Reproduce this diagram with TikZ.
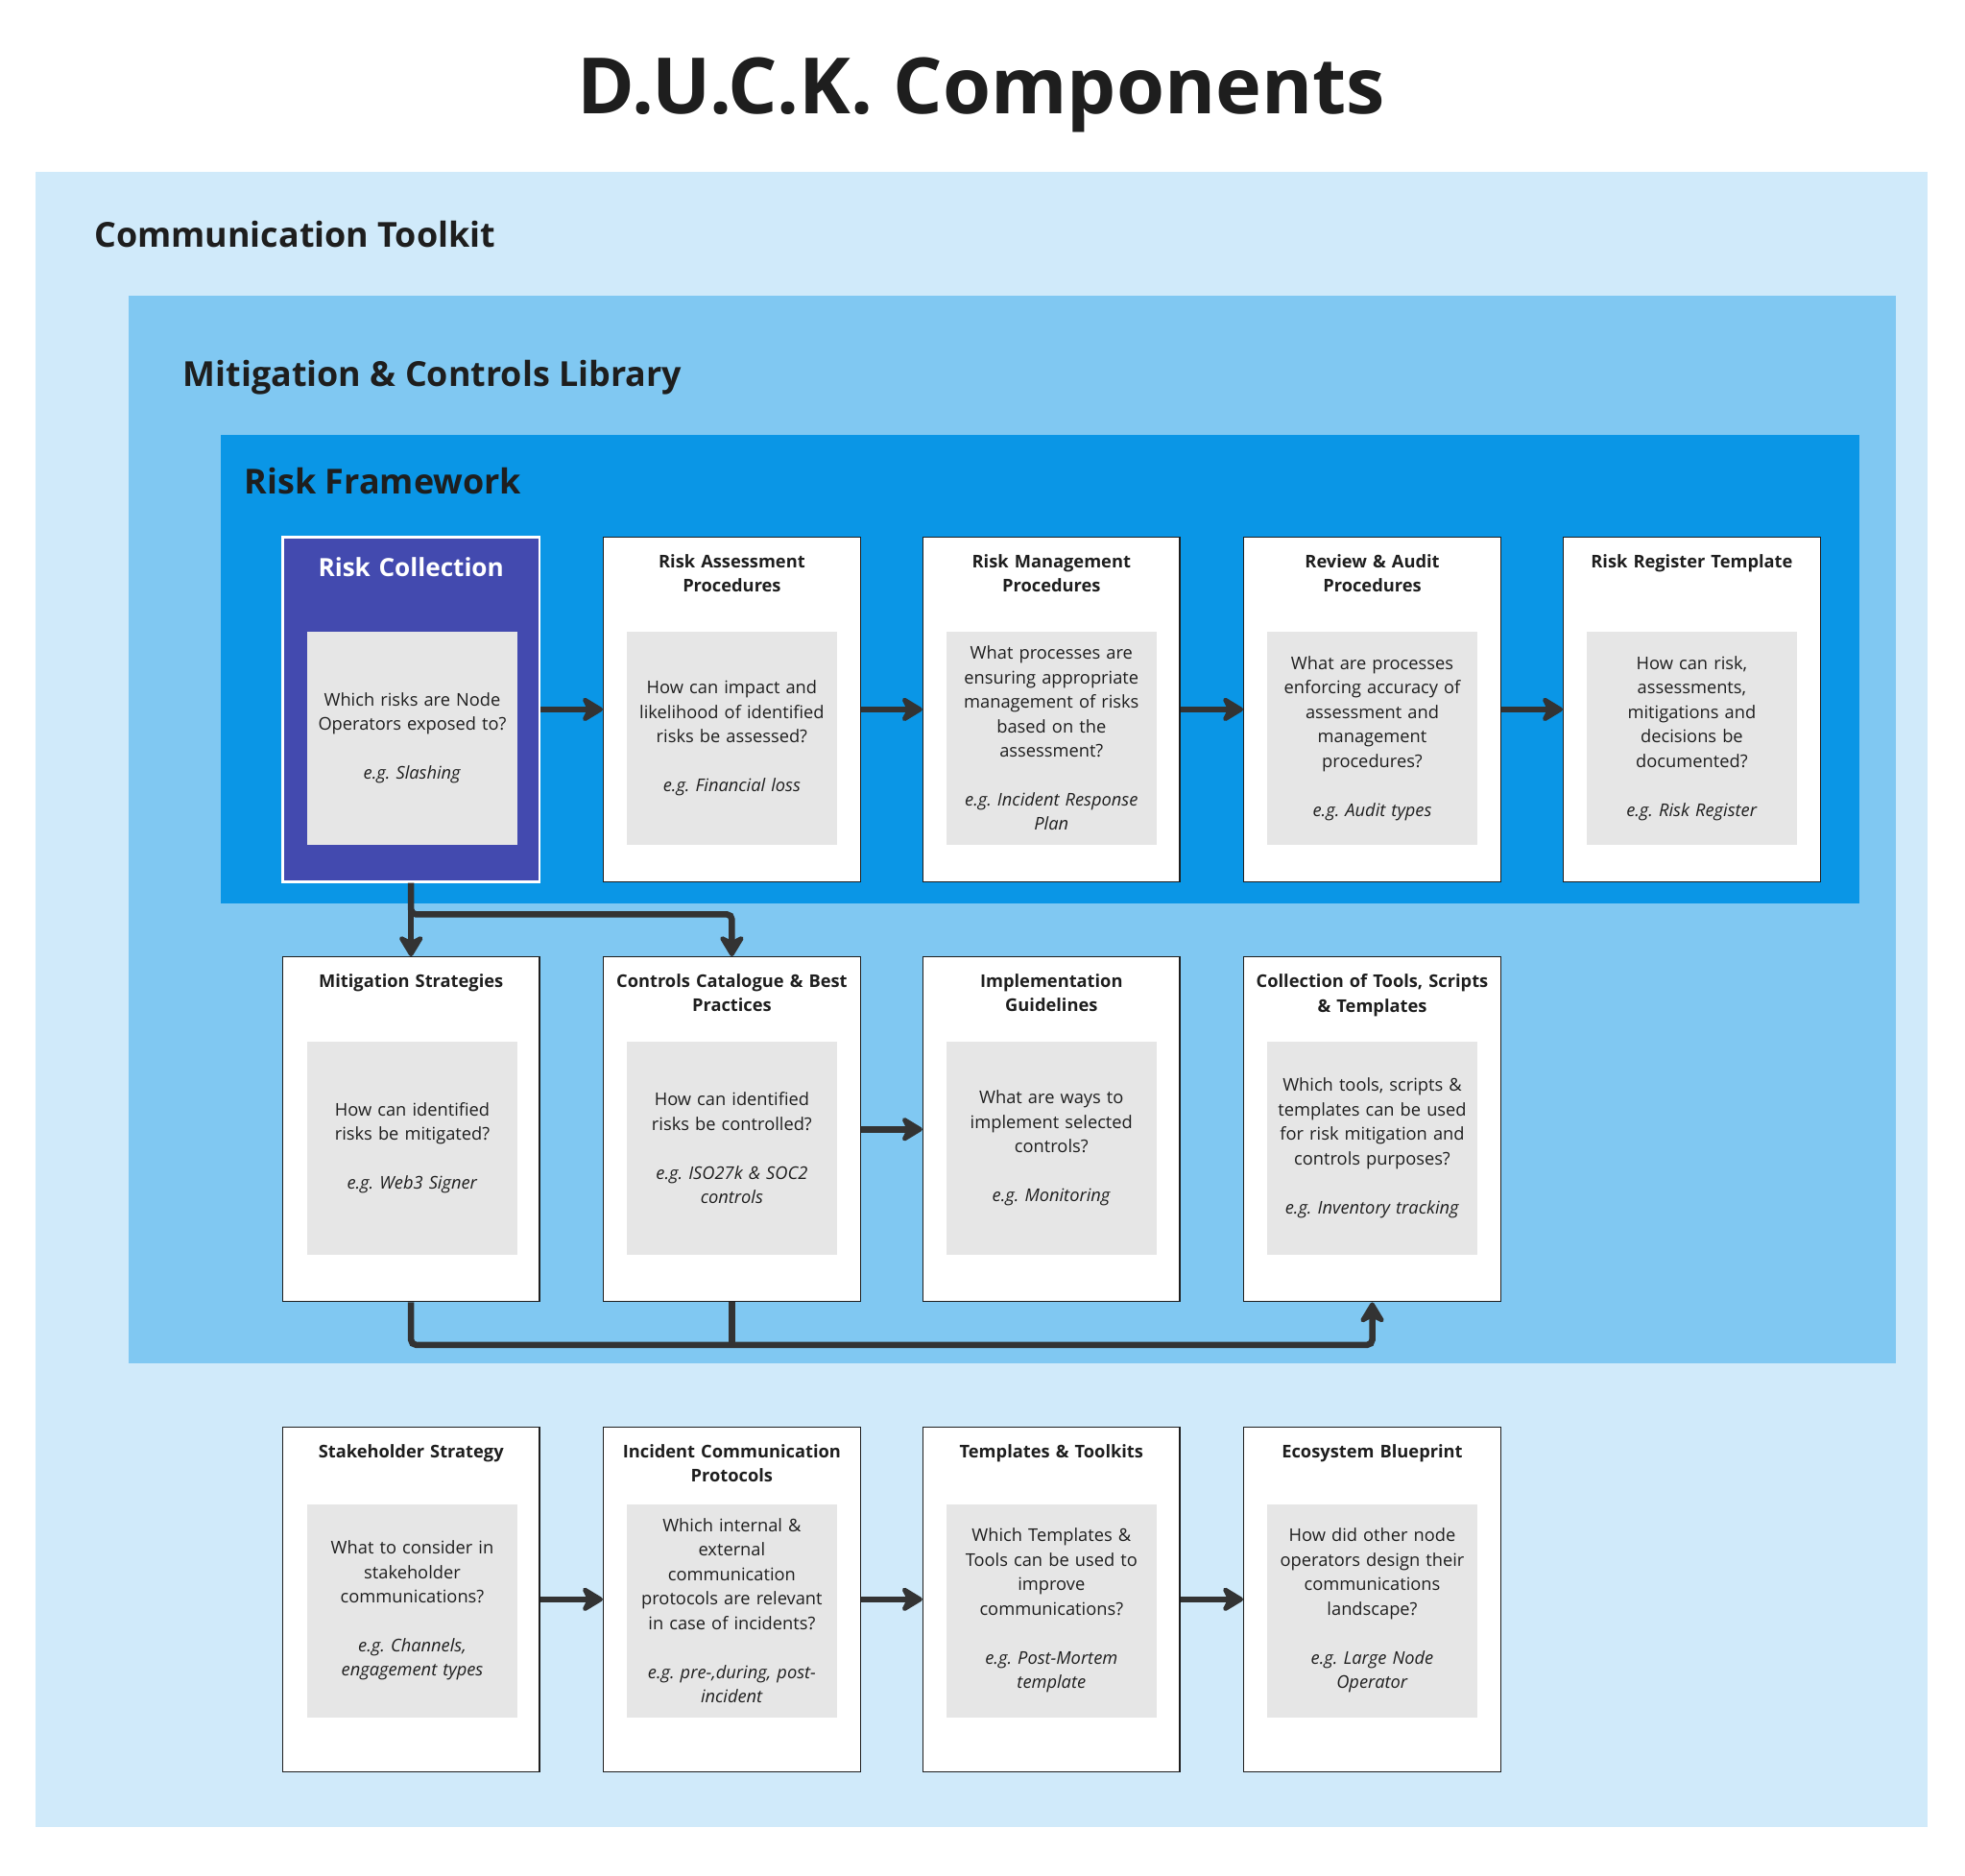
\documentclass[tikz,border=0pt]{standalone}
\usepackage{fontspec}
\setmainfont{Open Sans}
\usepackage{xcolor}
\usepackage{tikz}
\usetikzlibrary{positioning,arrows.meta}
\frenchspacing
\definecolor{ink}{HTML}{1E1E1E}
\definecolor{wire}{HTML}{333333}
\definecolor{toolkit}{HTML}{D0EAFA}
\definecolor{library}{HTML}{80C8F2}
\definecolor{framework}{HTML}{0A96E6}
\definecolor{collect}{HTML}{434AAF}
\definecolor{qgray}{HTML}{E6E6E6}
\tikzset{
  rtitle/.style={text=ink, font=\bfseries\fontsize{27.5}{33}\selectfont, anchor=base west, inner sep=0},
  card/.style={draw=ink, fill=white, line width=1pt, minimum width=205pt, minimum height=275pt, inner sep=0},
  hotcard/.style={card, draw=white, line width=2pt, fill=collect},
  ctitle/.style={text=ink, font=\bfseries\fontsize{14}{19.5}\selectfont, text width=192pt, align=center, inner sep=0},
  hottitle/.style={ctitle, text=white, font=\bfseries\fontsize{20}{24}\selectfont},
  qbox/.style={fill=qgray, text=ink, font=\fontsize{14}{19.5}\selectfont, minimum width=168pt, minimum height=170pt, text width=154pt, align=center, inner sep=0},
  link/.style={draw=wire, line width=5pt},
  arr/.style={link, -{Stealth[length=20pt, width=24pt, inset=6pt, round]}}
}

\begin{document}
\begin{tikzpicture}[x=1pt, y=-1pt]
  \useasboundingbox (0,0) rectangle (1568,1496);

  % nested regions
  \fill[toolkit] (28,137) rectangle (1538,1458);
  \fill[library] (103,236) rectangle (1513,1088);
  \fill[framework] (176,347) rectangle (1484,721);

  \node[text=ink, font=\bfseries\fontsize{62}{70}\selectfont, anchor=base] (title) at (783,91) {D.U.C.K. Components};
  \node[rtitle] (tk) at (75,197) {Communication Toolkit};
  \node[rtitle] (lib) at (146,308) {Mitigation \& Controls Library};
  \node[rtitle] (fw) at (195,394) {Risk Framework};

  % risk framework row
  \node[hotcard] (rc) at (328,566) {};
  \node[card] (ra) at (584,566) {};
  \node[card] (rm) at (839,566) {};
  \node[card] (ru) at (1095,566) {};
  \node[card] (rt) at (1350,566) {};

  \node[hottitle, below=17pt of rc.north] (rcT) {Risk Collection};
  \node[ctitle, below=14pt of ra.north] (raT) {Risk Assessment\\Procedures};
  \node[ctitle, below=14pt of rm.north] (rmT) {Risk Management\\Procedures};
  \node[ctitle, below=14pt of ru.north] (ruT) {Review \& Audit\\Procedures};
  \node[ctitle, below=14pt of rt.north] (rtT) {Risk Register Template};

  \node[qbox] (rcQ) at (329,589) {Which risks are Node\\Operators exposed to?\\[19.5pt]\textit{e.g. Slashing}};
  \node[qbox] (raQ) at (584,589) {How can impact and\\likelihood of identified\\risks be assessed?\\[19.5pt]\textit{e.g. Financial loss}};
  \node[qbox] (rmQ) at (839,589) {What processes are\\ensuring appropriate\\management of risks\\based on the\\assessment?\\[19.5pt]\textit{e.g. Incident Response}\\\textit{Plan}};
  \node[qbox] (ruQ) at (1095,589) {What are processes\\enforcing accuracy of\\assessment and\\management\\procedures?\\[19.5pt]\textit{e.g. Audit types}};
  \node[qbox] (rtQ) at (1350,589) {How can risk,\\assessments,\\mitigations and\\decisions be\\documented?\\[19.5pt]\textit{e.g. Risk Register}};

  \draw[arr] (rc) -- (ra);
  \draw[arr] (ra) -- (rm);
  \draw[arr] (rm) -- (ru);
  \draw[arr] (ru) -- (rt);

  % mitigation & controls row
  \node[card] (ms) at (328,901) {};
  \node[card] (cc) at (584,901) {};
  \node[card] (ig) at (839,901) {};
  \node[card] (ct) at (1095,901) {};

  \node[ctitle, below=14pt of ms.north] (msT) {Mitigation Strategies};
  \node[ctitle, below=14pt of cc.north] (ccT) {Controls Catalogue \& Best\\Practices};
  \node[ctitle, below=14pt of ig.north] (igT) {Implementation\\Guidelines};
  \node[ctitle, below=14pt of ct.north] (ctT) {Collection of Tools, Scripts\\\& Templates};

  \node[qbox] (msQ) at (329,916) {How can identified\\risks be mitigated?\\[19.5pt]\textit{e.g. Web3 Signer}};
  \node[qbox] (ccQ) at (584,916) {How can identified\\risks be controlled?\\[19.5pt]\textit{e.g. ISO27k \& SOC2}\\\textit{controls}};
  \node[qbox] (igQ) at (839,916) {What are ways to\\implement selected\\controls?\\[19.5pt]\textit{e.g. Monitoring}};
  \node[qbox] (ctQ) at (1095,916) {Which tools, scripts \&\\templates can be used\\for risk mitigation and\\controls purposes?\\[19.5pt]\textit{e.g. Inventory tracking}};

  \draw[arr] (rc.south) -- (ms.north);
  \draw[arr, rounded corners=4pt] (rc.south) -- ++(0,25) -| (cc.north);
  \draw[arr] (cc) -- (ig);
  \draw[arr, rounded corners=4pt] (ms.south) -- ++(0,34) -| (ct.south);
  \draw[link] (cc.south) -- ++(0,34);

  % communication row
  \node[card] (ss) at (328,1276) {};
  \node[card] (ic) at (584,1276) {};
  \node[card] (tt) at (839,1276) {};
  \node[card] (eb) at (1095,1276) {};

  \node[ctitle, below=14pt of ss.north] (ssT) {Stakeholder Strategy};
  \node[ctitle, below=14pt of ic.north] (icT) {Incident Communication\\Protocols};
  \node[ctitle, below=14pt of tt.north] (ttT) {Templates \& Toolkits};
  \node[ctitle, below=14pt of eb.north] (ebT) {Ecosystem Blueprint};

  \node[qbox] (ssQ) at (329,1285) {What to consider in\\stakeholder\\communications?\\[19.5pt]\textit{e.g. Channels,}\\\textit{engagement types}};
  \node[qbox] (icQ) at (584,1285) {Which internal \&\\external\\communication\\protocols are relevant\\in case of incidents?\\[19.5pt]\textit{e.g. pre-,during, post-}\\\textit{incident}};
  \node[qbox] (ttQ) at (839,1285) {Which Templates \&\\Tools can be used to\\improve\\communications?\\[19.5pt]\textit{e.g. Post-Mortem}\\\textit{template}};
  \node[qbox] (ebQ) at (1095,1285) {How did other node\\operators design their\\communications\\landscape?\\[19.5pt]\textit{e.g. Large Node}\\\textit{Operator}};

  \draw[arr] (ss) -- (ic);
  \draw[arr] (ic) -- (tt);
  \draw[arr] (tt) -- (eb);
\end{tikzpicture}
\end{document}
